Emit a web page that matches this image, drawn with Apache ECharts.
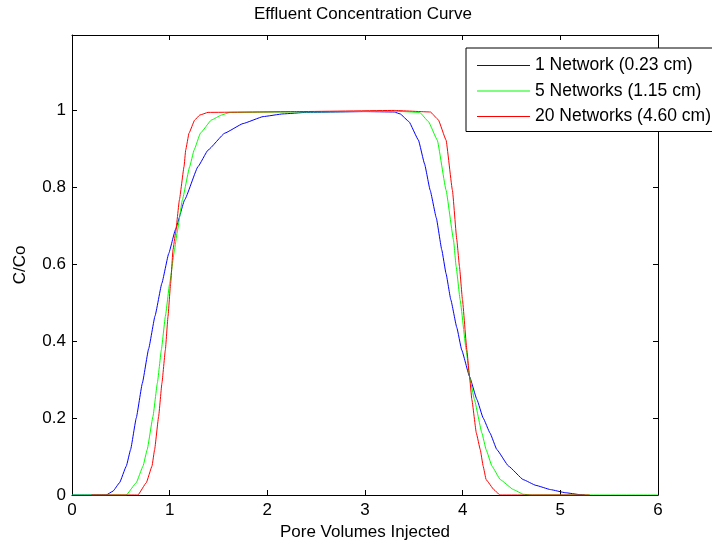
<!DOCTYPE html>
<html><head><meta charset="utf-8">
<script src="https://cdn.jsdelivr.net/npm/echarts@6/dist/echarts.min.js"></script>
<style>html,body{margin:0;padding:0;background:#fff}#c{width:712px;height:546px}</style>
</head><body><div id="c"></div>
<script>
const seriesNames = ['1 Network (0.23 cm)', '5 Networks (1.15 cm)', '20 Networks (4.60 cm)'];
const xTicks = [0, 1, 2, 3, 4, 5, 6];
const yTicks = [0, 0.2, 0.4, 0.6, 0.8, 1];
const net1 = [[0,0],[0.35,0],[0.42,0.01],[0.487,0.032],[0.556,0.075],[0.60,0.118],[0.658,0.2],[0.72,0.29],[0.785,0.38],[0.85,0.465],[0.92,0.55],[0.99,0.627],[1.06,0.69],[1.154,0.767],[1.29,0.853],[1.393,0.896],[1.564,0.94],[1.752,0.965],[1.957,0.983],[2.16,0.99],[2.4,0.994],[3.0,0.996],[3.3,0.995],[3.36,0.99],[3.45,0.97],[3.547,0.922],[3.61,0.86],[3.667,0.792],[3.73,0.72],[3.786,0.637],[3.83,0.575],[3.879,0.507],[3.94,0.435],[3.99,0.377],[4.07,0.308],[4.146,0.248],[4.21,0.2],[4.28,0.161],[4.35,0.118],[4.47,0.075],[4.62,0.04],[4.75,0.025],[4.9,0.014],[5.05,0.006],[5.2,0.001],[5.25,0]];
const net5 = [[0,0],[0.556,0],[0.658,0.032],[0.727,0.075],[0.77,0.118],[0.829,0.204],[0.874,0.291],[0.915,0.377],[0.956,0.464],[1.0,0.55],[1.05,0.637],[1.075,0.68],[1.13,0.767],[1.205,0.853],[1.25,0.896],[1.315,0.94],[1.427,0.974],[1.53,0.987],[1.615,0.994],[2.3,0.995],[3.3,0.997],[3.56,0.994],[3.65,0.97],[3.74,0.922],[3.83,0.792],[3.906,0.663],[3.933,0.594],[3.974,0.507],[4.036,0.377],[4.07,0.308],[4.12,0.248],[4.197,0.161],[4.24,0.118],[4.30,0.075],[4.385,0.04],[4.52,0.014],[4.62,0.002],[4.7,0],[6,0]];
const net20 = [[0.2,0],[0.675,0],[0.761,0.032],[0.819,0.075],[0.846,0.118],[0.887,0.204],[0.921,0.291],[0.956,0.377],[0.983,0.464],[1.01,0.55],[1.034,0.637],[1.06,0.68],[1.10,0.767],[1.147,0.853],[1.164,0.896],[1.198,0.94],[1.256,0.974],[1.308,0.987],[1.393,0.994],[2.3,0.996],[3.3,0.999],[3.67,0.995],[3.75,0.975],[3.83,0.922],[3.895,0.792],[3.94,0.663],[3.967,0.594],[3.998,0.507],[4.043,0.377],[4.07,0.308],[4.094,0.248],[4.14,0.161],[4.18,0.118],[4.21,0.075],[4.24,0.04],[4.32,0.014],[4.38,0],[5.3,0]];
const colors = ['#0000ff', '#00ff00', '#ff0000'];
const font = 'Liberation Sans, Arial, sans-serif';

const chart = echarts.init(document.getElementById('c'), null, {renderer: 'canvas'});
const axisCommon = {
  axisLine: {show: true, onZero: false, lineStyle: {color: '#000', width: 1}},
  axisTick: {show: true, inside: true, length: 5, lineStyle: {color: '#000'}},
  splitLine: {show: false}
};
chart.setOption({
  animation: false,
  backgroundColor: '#fff',
  title: {text: 'Effluent Concentration Curve', left: 363, top: 6, textAlign: 'center', padding: 0,
    textStyle: {fontFamily: font, fontSize: 17, fontWeight: 'normal', color: '#000', lineHeight: 17}},
  grid: {left: 72, right: 54, top: 35, bottom: 51, containLabel: false},
  legend: {
    data: seriesNames, orient: 'vertical', left: 466, top: 48,
    backgroundColor: '#fff', borderColor: '#000', borderWidth: 1,
    padding: [8.5, 8, 6, 11], itemGap: 7.5, itemWidth: 53, itemHeight: 1.2, icon: 'rect',
    textStyle: {fontFamily: font, fontSize: 17.5, color: '#000', lineHeight: 17}
  },
  xAxis: [
    Object.assign({type: 'value', min: xTicks[0], max: xTicks[xTicks.length - 1], interval: 1, position: 'bottom',
      name: 'Pore Volumes Injected', nameLocation: 'middle', nameGap: 29,
      nameTextStyle: {fontFamily: font, fontSize: 17, color: '#000'},
      axisLabel: {fontFamily: font, fontSize: 17, color: '#000', margin: 7}}, axisCommon),
    Object.assign({type: 'value', min: xTicks[0], max: xTicks[xTicks.length - 1], interval: 1, position: 'top',
      axisLabel: {show: false}}, axisCommon)
  ],
  yAxis: [
    Object.assign({type: 'value', min: 0, max: 1.195, interval: 0.2, position: 'left',
      name: 'C/Co', nameLocation: 'middle', nameGap: 43,
      nameTextStyle: {fontFamily: font, fontSize: 17, color: '#000'},
      axisLabel: {fontFamily: font, fontSize: 17, color: '#000', margin: 6, showMaxLabel: false,
        formatter: v => (yTicks.some(t => Math.abs(t - v) < 1e-6) ? String(+v.toFixed(1)) : '')}}, axisCommon),
    Object.assign({type: 'value', min: 0, max: 1.195, interval: 0.2, position: 'right',
      axisLabel: {show: false}}, axisCommon)
  ],
  series: [net1, net5, net20].map((d, i) => ({
    name: seriesNames[i], type: 'line', data: d, showSymbol: false, symbol: 'none',
    smooth: 0.1, smoothMonotone: 'x',
    xAxisIndex: 0, yAxisIndex: 0,
    lineStyle: {color: colors[i], width: 1}, itemStyle: {color: colors[i]}, z: 2 + i
  }))
});
</script></body></html>
